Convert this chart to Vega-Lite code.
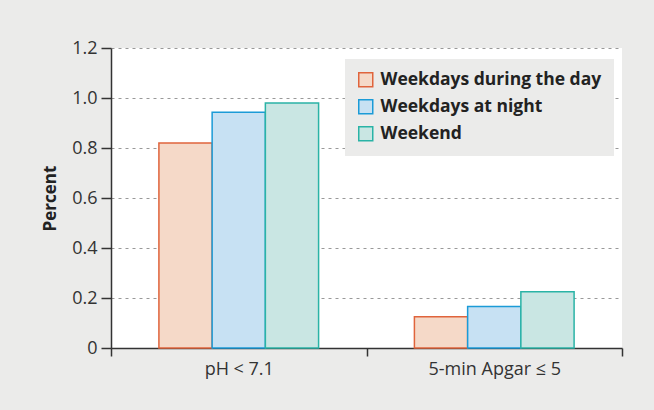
{
  "$schema": "https://vega.github.io/schema/vega-lite/v6.json",
  "autosize": "none",
  "width": 511,
  "height": 300,
  "padding": {"left": 111, "top": 48, "right": 32, "bottom": 62},
  "background": "#ebebea",
  "config": {
    "view": {"fill": "white", "stroke": null},
    "font": "Open Sans"
  },
  "data": {
    "values": [
      {"measure": "pH < 7.1", "group": "Weekdays during the day", "value": 0.82},
      {"measure": "pH < 7.1", "group": "Weekdays at night", "value": 0.943},
      {"measure": "pH < 7.1", "group": "Weekend", "value": 0.98},
      {"measure": "5-min Apgar ≤ 5", "group": "Weekdays during the day", "value": 0.125},
      {"measure": "5-min Apgar ≤ 5", "group": "Weekdays at night", "value": 0.166},
      {"measure": "5-min Apgar ≤ 5", "group": "Weekend", "value": 0.225}
    ]
  },
  "mark": {"type": "bar", "strokeWidth": 1.5, "strokeJoin": "miter"},
  "encoding": {
    "x": {
      "field": "measure", "type": "nominal", "sort": ["pH < 7.1", "5-min Apgar ≤ 5"],
      "scale": {"paddingInner": 0, "paddingOuter": 0},
      "axis": {
        "title": null, "labelAngle": 0, "tickBand": "extent", "tickSize": 8,
        "domainColor": "#333", "tickColor": "#333", "domainWidth": 1.5, "tickWidth": 1.5,
        "labelFontSize": 18, "labelColor": "#333", "labelPadding": 4, "grid": false
      }
    },
    "xOffset": {
      "field": "group", "type": "nominal",
      "sort": ["Weekdays during the day", "Weekdays at night", "Weekend"],
      "scale": {"paddingInner": 0, "paddingOuter": 0.9}
    },
    "y": {
      "field": "value", "type": "quantitative",
      "scale": {"domain": [0, 1.2], "nice": false},
      "axis": {
        "title": "Percent", "titleFontSize": 17, "titleFontWeight": "bold", "titleColor": "#222",
        "titlePadding": 12,
        "values": [0, 0.2, 0.4, 0.6, 0.8, 1.0, 1.2],
        "labelExpr": "datum.value == 0 ? '0' : format(datum.value, '.1f')",
        "labelFontSize": 18, "labelColor": "#333", "labelPadding": 4,
        "tickSize": 10, "tickColor": "#333", "domainColor": "#333", "domainWidth": 1.5, "tickWidth": 1.5,
        "grid": true, "gridColor": "#999", "gridDash": [3, 4], "gridWidth": 1.2
      }
    },
    "fill": {
      "field": "group", "type": "nominal",
      "sort": ["Weekdays during the day", "Weekdays at night", "Weekend"],
      "scale": {"range": ["#f5d9c8", "#c7e1f3", "#c9e6e3"]},
      "legend": {
        "title": null, "orient": "none", "legendX": 234, "legendY": 11,
        "fillColor": "#ebebea", "padding": 12, "symbolType": "square", "symbolSize": 196,
        "symbolStrokeWidth": 1.5, "labelFontSize": 17.5, "labelFontWeight": "bold", "labelColor": "#222",
        "rowPadding": 6, "labelOffset": 6, "labelLimit": 400,
        "encode": {"symbols": {"update": {"stroke": {"scale": "stroke", "field": "value"}, "fill": {"scale": "fill", "field": "value"}, "fillOpacity": {"value": 1}}}}
      }
    },
    "stroke": {
      "field": "group", "type": "nominal",
      "sort": ["Weekdays during the day", "Weekdays at night", "Weekend"],
      "scale": {"range": ["#e0643c", "#1b9bd7", "#2ab3a6"]},
      "legend": null
    }
  }
}
